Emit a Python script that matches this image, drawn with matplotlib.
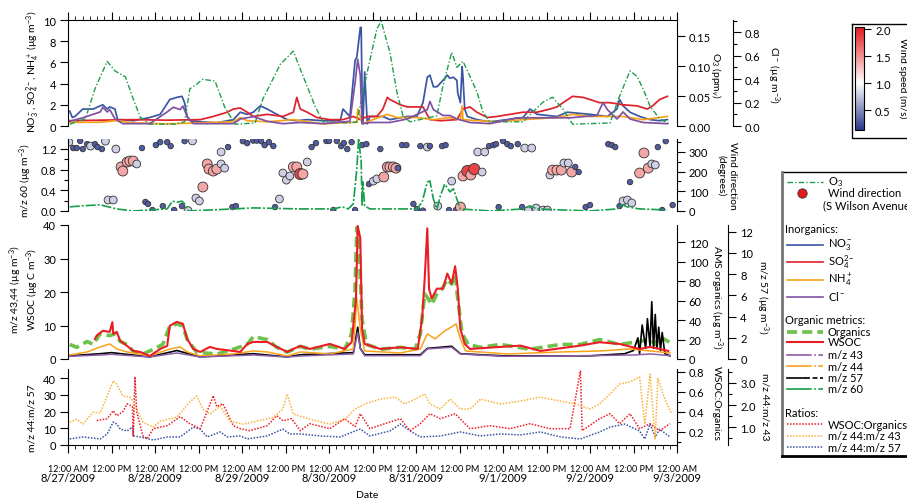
import numpy as np
import pandas as pd
import matplotlib
matplotlib.use('Agg')
import matplotlib.pyplot as plt
import matplotlib.dates as mdates
import matplotlib.ticker as mticker
from matplotlib.colors import LinearSegmentedColormap, Normalize
from matplotlib.cm import ScalarMappable

plt.rcParams['font.family'] = ['Lato', 'DejaVu Sans']
plt.rcParams['mathtext.fontset'] = 'custom'
plt.rcParams['mathtext.rm'] = 'Lato'
plt.rcParams['mathtext.it'] = 'Lato:italic'
plt.rcParams['mathtext.bf'] = 'Lato:bold'

# ---------------- data (time in days since 8/27/2009 00:00) ----------------
O3 = [(0.02,0.003),(0.20,0.012),(0.31,0.062),(0.45,0.108),(0.54,0.092),(0.66,0.082),(0.75,0.045),(0.83,0.015),(0.94,0.003),(1.23,0.003),(1.34,0.007),(1.40,0.062),(1.48,0.070),(1.55,0.078),(1.69,0.075),(1.80,0.032),(1.92,0.003),(2.15,0.005),(2.24,0.045),(2.44,0.103),(2.59,0.125),(2.67,0.095),(2.84,0.033),(2.93,0.007),(3.24,0.005),(3.32,0.007),(3.44,0.090),(3.55,0.162),(3.60,0.175),(3.70,0.123),(3.78,0.057),(3.85,0.017),(3.93,0.007),(4.24,0.017),(4.31,0.067),(4.41,0.123),(4.47,0.098),(4.54,0.108),(4.62,0.083),(4.70,0.057),(4.77,0.023),(4.85,0.007),(5.23,0.007),(5.46,0.040),(5.57,0.048),(5.69,0.028),(5.80,0.003),(6.23,0.005),(6.34,0.050),(6.46,0.092),(6.54,0.083),(6.61,0.062),(6.69,0.033),(6.80,0.012),(6.92,0.003)]
NO3 = [(0.02,1.4),(0.05,0.8),(0.08,0.9),(0.17,1.6),(0.29,1.6),(0.37,1.9),(0.40,2.0),(0.45,1.6),(0.48,1.8),(0.54,1.6),(0.57,0.6),(0.63,0.6),(0.75,0.5),(0.94,0.8),(1.06,1.1),(1.17,2.5),(1.25,2.7),(1.31,2.8),(1.34,2.2),(1.37,0.9),(1.40,0.5),(1.52,0.4),(1.71,0.3),(1.90,0.6),(1.98,1.3),(2.06,1.1),(2.13,1.3),(2.21,1.9),(2.29,1.6),(2.40,1.1),(2.52,0.6),(2.63,0.5),(2.75,0.6),(2.93,0.5),(3.13,0.5),(3.16,1.6),(3.24,0.9),(3.30,6.2),(3.32,6.5),(3.36,9.3),(3.37,9.3),(3.38,3.1),(3.39,0.2),(3.41,5.1),(3.44,0.2),(3.47,0.9),(3.62,0.9),(3.70,0.6),(3.90,0.9),(4.01,0.9),(4.08,2.2),(4.13,4.6),(4.16,4.8),(4.20,3.7),(4.24,3.7),(4.31,4.3),(4.36,4.8),(4.39,4.5),(4.43,4.6),(4.47,4.3),(4.48,3.1),(4.51,2.2),(4.53,5.6),(4.54,4.6),(4.56,1.6),(4.59,0.9),(4.70,0.6),(4.85,0.4),(5.05,0.6),(5.23,0.8),(5.31,1.6),(5.39,1.1),(5.62,0.9),(5.74,1.3),(6.00,1.1),(6.20,0.9),(6.31,1.6),(6.34,2.5),(6.38,1.9),(6.46,1.3),(6.57,0.9),(6.69,0.6),(6.80,0.5),(6.89,0.6)]
SO4 = [(0.02,0.5),(0.37,0.55),(0.75,0.6),(1.14,0.55),(1.52,0.6),(1.67,0.9),(1.83,1.3),(1.90,1.6),(1.98,1.7),(2.06,1.3),(2.13,0.9),(2.29,1.1),(2.47,0.9),(2.59,1.3),(2.63,2.7),(2.67,1.6),(2.75,1.3),(2.86,0.8),(3.01,0.6),(3.16,0.6),(3.28,0.9),(3.36,0.6),(3.44,0.9),(3.55,0.9),(3.62,1.6),(3.67,2.7),(3.70,2.5),(3.82,2.0),(3.90,1.8),(4.08,1.8),(4.16,0.6),(4.28,0.5),(4.47,0.6),(4.54,1.6),(4.62,1.8),(4.70,1.3),(4.82,0.8),(4.93,0.9),(5.08,1.1),(5.23,1.3),(5.39,1.3),(5.54,1.6),(5.62,1.8),(5.69,2.2),(5.80,2.8),(5.92,2.7),(6.00,2.5),(6.11,2.2),(6.23,2.2),(6.38,2.0),(6.54,1.9),(6.66,1.6),(6.72,1.9),(6.80,2.5),(6.89,2.8)]
NH4 = [(0.02,0.35),(0.37,0.35),(0.56,0.5),(0.75,0.3),(1.14,0.2),(1.52,0.3),(1.90,0.4),(1.98,0.8),(2.06,0.5),(2.29,0.4),(2.59,0.6),(2.93,0.2),(3.24,0.35),(3.32,0.35),(3.33,1.6),(3.36,0.9),(3.38,0.2),(3.47,0.5),(3.67,1.1),(3.78,0.8),(4.01,0.8),(4.20,0.6),(4.39,0.8),(4.51,0.6),(4.53,1.9),(4.54,0.6),(4.70,0.5),(4.93,0.4),(5.23,0.6),(5.62,0.8),(5.80,1.1),(6.00,0.9),(6.38,0.9),(6.61,0.6),(6.89,0.9)]
CL = [(0.02,0.04),(0.17,0.07),(0.37,0.12),(0.40,0.16),(0.45,0.12),(0.48,0.14),(0.54,0.06),(0.63,0.02),(0.94,0.02),(1.14,0.12),(1.21,0.16),(1.29,0.14),(1.32,0.17),(1.37,0.08),(1.44,0.02),(1.90,0.02),(1.98,0.06),(2.13,0.08),(2.29,0.04),(2.47,0.02),(2.67,0.03),(2.93,0.02),(3.24,0.04),(3.30,0.37),(3.33,0.57),(3.36,0.43),(3.38,0.02),(3.47,0.03),(3.70,0.03),(3.90,0.06),(4.13,0.14),(4.16,0.21),(4.20,0.14),(4.31,0.09),(4.39,0.09),(4.47,0.06),(4.62,0.03),(4.85,0.02),(5.16,0.07),(5.46,0.07),(5.77,0.07),(6.08,0.09),(6.15,0.20),(6.20,0.14),(6.31,0.06),(6.38,0.12),(6.46,0.06),(6.61,0.03),(6.89,0.02)]

MZ60 = [(0.02,0.08),(0.17,0.10),(0.37,0.12),(0.56,0.04),(0.75,0.0),(1.14,0.04),(1.20,0.19),(1.25,0.17),(1.31,0.19),(1.34,0.14),(1.38,0.0),(1.90,0.04),(2.13,0.06),(2.67,0.04),(3.05,0.04),(3.15,0.08),(3.22,0.04),(3.28,0.14),(3.32,0.82),(3.34,1.40),(3.37,0.95),(3.38,0.10),(3.39,0.56),(3.41,0.10),(3.47,0.04),(4.01,0.04),(4.07,0.17),(4.13,0.56),(4.16,0.58),(4.20,0.23),(4.24,0.04),(4.28,0.29),(4.33,0.52),(4.39,0.37),(4.43,0.43),(4.47,0.23),(4.51,0.04),(4.85,0.0),(5.23,0.04),(5.31,0.10),(5.39,0.04),(6.00,0.0),(6.31,0.04),(6.37,0.12),(6.43,0.08),(6.57,0.04),(6.89,0.02)]

# wind: (day, direction deg, speed m/s)
WIND = [(0.01,350,0.8),(0.06,320,0.3),(0.10,320,0.3),(0.14,356,0.3),(0.17,315,0.3),(0.22,340,0.3),(0.26,330,0.8),(0.31,340,0.3),(0.34,325,0.3),(0.39,315,0.3),(0.43,355,0.8),(0.46,56,0.8),(0.52,56,0.8),(0.55,315,0.8),(0.61,224,1.4),(0.63,203,1.4),(0.68,249,1.4),(0.71,254,1.4),(0.75,254,1.4),(0.79,239,0.8),(0.85,320,0.3),(0.89,46,0.3),(0.92,36,0.3),(0.97,5,0.3),(1.01,335,0.3),(1.06,350,0.3),(1.09,25,0.3),(1.14,350,0.3),(1.18,330,0.3),(1.22,5,0.3),(1.31,25,0.3),(1.34,355,0.3),(1.38,2,0.8),(1.43,356,0.8),(1.47,66,0.8),(1.51,51,0.8),(1.55,122,1.4),(1.60,239,1.4),(1.62,213,1.4),(1.67,203,1.4),(1.71,213,1.4),(1.76,239,0.8),(1.80,218,0.8),(1.76,300,0.8),(1.84,325,0.3),(1.89,20,0.3),(1.93,25,0.3),(2.01,355,0.3),(2.06,345,0.3),(2.13,358,0.3),(2.17,358,0.3),(2.22,355,0.3),(2.26,335,0.3),(2.31,350,0.3),(2.36,330,0.3),(2.38,20,0.3),(2.43,61,0.8),(2.47,193,0.8),(2.51,157,0.8),(2.55,178,0.8),(2.59,224,1.4),(2.63,224,1.4),(2.67,188,1.85),(2.70,188,1.4),(2.75,249,0.8),(2.80,325,0.3),(2.85,345,0.3),(2.97,356,0.3),(3.00,356,0.3),(3.05,5,0.3),(3.09,356,0.3),(3.14,330,0.3),(3.17,345,0.3),(3.21,315,0.3),(3.26,350,0.3),(3.30,5,0.3),(3.38,335,0.3),(3.43,340,0.3),(3.46,137,0.3),(3.51,152,0.8),(3.55,163,0.8),(3.59,315,0.3),(3.63,173,1.4),(3.67,224,1.4),(3.70,224,1.4),(3.74,224,1.4),(3.77,218,1.4),(3.79,218,0.3),(3.84,335,0.3),(3.89,335,0.3),(3.97,36,0.3),(4.01,10,0.3),(4.05,330,0.3),(4.08,2,0.3),(4.13,325,0.8),(4.16,330,0.3),(4.25,25,0.8),(4.30,330,0.3),(4.34,335,0.3),(4.38,5,0.3),(4.41,152,0.8),(4.46,5,0.3),(4.51,20,1.4),(4.54,178,1.4),(4.59,203,1.85),(4.63,183,1.4),(4.67,213,1.85),(4.71,300,0.8),(4.76,198,0.8),(4.79,300,0.8),(4.84,330,0.3),(4.89,335,0.3),(4.92,340,0.3),(4.95,20,0.3),(5.00,356,0.3),(5.05,340,0.3),(5.09,330,0.3),(5.17,340,0.3),(5.22,20,0.3),(5.25,320,0.8),(5.29,2,0.8),(5.33,320,0.8),(5.38,15,0.8),(5.46,5,0.8),(5.51,5,0.8),(5.54,183,0.8),(5.57,208,1.4),(5.62,208,1.4),(5.67,208,1.4),(5.70,244,0.8),(5.75,244,0.8),(5.79,198,1.4),(5.83,224,0.3),(5.87,198,0.3),(5.95,20,0.3),(6.00,30,0.3),(6.21,340,0.3),(6.25,335,0.3),(6.29,325,0.3),(6.34,25,0.3),(6.38,51,0.8),(6.43,56,0.8),(6.46,147,0.3),(6.48,41,0.8),(6.57,193,1.4),(6.62,295,1.4),(6.67,218,1.4),(6.71,239,0.8),(6.75,234,0.8),(6.78,325,0.3),(6.83,5,0.3),(6.87,355,0.3),(6.95,30,0.3)]

WSOC = [(0.31,6.0),(0.33,7.0),(0.40,8.4),(0.48,8.1),(0.51,11.0),(0.52,7.5),(0.56,8.1),(0.60,5.4),(0.68,3.9),(0.75,2.4),(0.83,2.1),(0.94,0.9),(1.06,3.0),(1.14,3.9),(1.17,9.9),(1.25,11.1),(1.32,10.5),(1.37,6.0),(1.44,3.0),(1.52,2.1),(1.63,3.6),(1.71,3.0),(1.90,2.4),(1.98,2.1),(2.06,4.5),(2.13,5.1),(2.29,5.1),(2.40,3.6),(2.52,2.1),(2.59,3.0),(2.67,3.9),(2.78,3.0),(3.01,4.5),(3.18,3.0),(3.26,5.0),(3.31,18.0),(3.33,39.7),(3.36,36.0),(3.38,9.0),(3.41,4.5),(3.59,3.0),(3.82,3.5),(4.02,3.0),(4.07,12.0),(4.10,24.0),(4.13,39.0),(4.15,21.0),(4.18,18.0),(4.24,21.0),(4.31,21.0),(4.36,25.5),(4.41,22.5),(4.45,27.7),(4.48,21.0),(4.51,9.0),(4.56,4.5),(4.62,3.0),(5.20,4.0),(5.43,2.4),(5.89,4.0),(6.11,5.0),(6.34,4.5),(6.57,3.0),(6.69,3.6),(6.80,3.0),(6.90,2.4)]
ORG = [(0.02,15),(0.10,12),(0.22,18),(0.29,15),(0.37,26),(0.48,24),(0.54,26),(0.60,18),(0.68,15),(0.75,8),(0.86,5),(0.98,10),(1.09,15),(1.17,34),(1.25,36),(1.32,34),(1.37,20),(1.48,7),(1.71,5),(1.90,10),(2.06,15),(2.13,23),(2.29,20),(2.40,12),(2.52,7),(2.67,13),(2.78,10),(3.01,13),(3.18,10),(3.26,26),(3.30,72),(3.32,135),(3.34,123),(3.38,41),(3.43,15),(3.59,10),(3.82,12),(3.99,10),(4.05,26),(4.10,67),(4.14,62),(4.18,56),(4.24,67),(4.30,72),(4.36,82),(4.41,77),(4.45,87),(4.48,62),(4.53,26),(4.60,15),(4.74,12),(4.97,15),(5.31,10),(5.66,15),(5.89,15),(6.11,20),(6.34,15),(6.57,18),(6.69,20),(6.75,15),(6.80,23),(6.92,17)]
MZ44 = [(0.02,1.2),(0.22,2.1),(0.37,3.6),(0.48,4.5),(0.56,3.0),(0.68,2.1),(0.94,0.9),(1.17,3.0),(1.29,3.6),(1.37,2.1),(1.52,0.9),(1.90,1.5),(2.13,2.4),(2.29,2.1),(2.52,0.9),(2.67,2.1),(3.01,1.5),(3.28,3.0),(3.32,18.0),(3.36,9.0),(3.41,2.4),(3.82,1.8),(4.05,3.0),(4.13,7.5),(4.22,6.0),(4.33,8.4),(4.41,9.6),(4.46,10.5),(4.51,6.0),(4.57,2.4),(5.05,1.5),(5.66,2.1),(6.11,2.4),(6.46,3.0),(6.69,2.4),(6.92,1.8)]
MZ43 = [(0.02,0.8),(0.37,1.2),(0.50,1.4),(0.94,0.6),(1.25,1.8),(1.52,0.6),(2.13,1.2),(2.52,0.6),(2.67,0.9),(3.28,1.5),(3.33,8.0),(3.36,3.0),(3.41,1.0),(4.05,1.0),(4.13,3.0),(4.41,3.5),(4.51,1.5),(5.00,0.8),(6.00,1.0),(6.50,1.2),(6.70,1.5),(6.92,1.0)]
MZ57 = [(0.02,0.3),(0.37,0.5),(0.50,0.6),(0.94,0.2),(1.25,0.8),(1.52,0.2),(2.13,0.5),(2.52,0.2),(2.67,0.4),(3.28,0.6),(3.33,3.0),(3.36,1.0),(3.41,0.4),(4.05,0.4),(4.13,1.0),(4.41,1.2),(4.51,0.5),(5.00,0.3),(6.00,0.3),(6.40,0.5),(6.50,0.8),(6.55,2.0),(6.57,0.5),(6.60,3.2),(6.64,1.0),(6.66,3.8),(6.69,1.2),(6.71,5.4),(6.73,1.0),(6.75,4.2),(6.77,1.0),(6.79,3.0),(6.81,0.8),(6.83,2.5),(6.86,0.5),(6.92,0.3)]

R4457 = [(0.02,3.6),(0.17,4.8),(0.37,3.6),(0.45,6.6),(0.52,13.7),(0.56,12.5),(0.60,9.5),(0.68,8.4),(0.74,10.7),(0.75,5.4),(0.83,4.8),(0.98,3.0),(1.14,4.8),(1.29,4.8),(1.44,10.7),(1.52,9.5),(1.60,4.8),(1.75,7.8),(1.83,4.8),(1.98,5.4),(2.06,3.6),(2.29,5.4),(2.47,9.5),(2.55,6.6),(2.67,6.6),(2.90,5.4),(3.13,4.8),(3.30,8.4),(3.36,9.5),(3.47,5.4),(3.70,8.4),(3.82,12.5),(3.93,8.4),(4.05,4.8),(4.28,5.4),(4.51,7.8),(4.74,5.4),(4.97,6.6),(5.20,6.0),(5.43,7.8),(5.66,4.8),(5.89,3.6),(6.11,7.8),(6.23,10.7),(6.40,12.5),(6.57,8.4),(6.63,3.6),(6.69,12.5),(6.75,4.8),(6.80,9.5),(6.92,4.8)]
R4443 = [(0.02,1.23),(0.10,1.36),(0.17,1.14),(0.29,1.68),(0.37,1.64),(0.45,2.41),(0.52,3.09),(0.56,2.95),(0.63,2.41),(0.71,2.36),(0.75,2.18),(0.79,1.82),(0.86,1.23),(0.98,1.0),(1.06,1.27),(1.25,1.45),(1.40,2.14),(1.48,2.41),(1.55,1.82),(1.63,1.59),(1.75,1.95),(1.86,1.27),(2.01,1.14),(2.17,1.27),(2.36,1.45),(2.47,1.82),(2.52,2.5),(2.59,1.59),(2.67,1.5),(2.78,1.36),(3.01,1.14),(3.18,1.36),(3.30,1.82),(3.41,2.05),(3.59,2.27),(3.76,2.36),(3.87,2.05),(3.99,2.27),(4.10,2.5),(4.16,2.05),(4.28,1.82),(4.39,2.27),(4.51,1.82),(4.62,1.82),(4.74,2.27),(4.97,2.05),(5.20,2.18),(5.43,2.36),(5.66,2.18),(5.83,2.05),(6.00,1.82),(6.11,2.05),(6.23,2.5),(6.34,2.95),(6.46,3.05),(6.57,3.27),(6.63,1.14),(6.69,3.4),(6.75,0.45),(6.78,3.2),(6.86,2.27),(6.94,1.6)]
RWO = [(0.33,0.31),(0.45,0.33),(0.52,0.41),(0.56,0.36),(0.63,0.40),(0.68,0.48),(0.74,0.45),(0.75,0.15),(0.77,0.75),(0.79,0.40),(0.86,0.16),(0.91,0.13),(0.98,0.23),(1.14,0.26),(1.29,0.35),(1.40,0.28),(1.52,0.23),(1.67,0.56),(1.71,0.45),(1.78,0.48),(1.90,0.26),(1.98,0.23),(2.09,0.21),(2.29,0.26),(2.40,0.36),(2.47,0.31),(2.57,0.33),(2.67,0.21),(2.78,0.28),(3.01,0.23),(3.18,0.33),(3.30,0.25),(3.36,0.38),(3.47,0.23),(3.64,0.28),(3.82,0.33),(3.93,0.21),(4.05,0.28),(4.16,0.38),(4.28,0.33),(4.45,0.38),(4.62,0.23),(4.85,0.26),(5.08,0.23),(5.31,0.28),(5.54,0.23),(5.77,0.23),(5.89,0.81),(5.91,0.21),(6.11,0.33),(6.23,0.38),(6.34,0.28),(6.46,0.38),(6.57,0.23),(6.69,0.28),(6.80,0.21),(6.92,0.28)]

DATES = ['8/27/2009', '8/28/2009', '8/29/2009', '8/30/2009', '8/31/2009', '9/1/2009', '9/2/2009', '9/3/2009']
WS_TICKS = [0.5, 1.0, 1.5, 2.0]

START = pd.Timestamp('2009-08-27')


def series(pairs):
    d, v = zip(*pairs)
    return START + pd.to_timedelta(np.array(d), unit='D'), np.array(v)


# ---------------- colours ----------------
C_NO3 = '#3b55a5'
C_SO4 = '#e0202a'
C_NH4 = '#f8a31c'
C_CL = '#7e51a1'
C_O3 = '#1e9e4a'
C_60 = '#14a04a'
C_ORG = '#6cc24a'
C_WSOC = '#ec1c24'
C_43 = '#8b5ea8'
C_44 = '#f9a21b'
C_57 = '#000000'

W, H = 907, 502
fig = plt.figure(figsize=(W / 100, H / 100), dpi=100)


def box(x0, y0, x1, y1):
    return [x0 / W, 1 - y1 / H, (x1 - x0) / W, (y1 - y0) / H]


ax1 = fig.add_axes(box(68, 21, 677, 127))
ax2 = fig.add_axes(box(68, 140, 677, 212))
ax3 = fig.add_axes(box(68, 226, 677, 360))
ax4 = fig.add_axes(box(68, 370, 677, 446))

FS = 8
TL = 5.5


def style_left(ax, bottom=False, top=False):
    for s in ['right', 'top', 'bottom']:
        ax.spines[s].set_visible(False)
    if bottom:
        ax.spines['bottom'].set_visible(True)
    if top:
        ax.spines['top'].set_visible(True)
    ax.tick_params(axis='y', which='major', length=TL, width=0.8, labelsize=FS, pad=3)
    ax.tick_params(axis='y', which='minor', length=3, width=0.8)
    ax.patch.set_visible(False)


def style_right(tw, offset=0):
    for s in ['left', 'top', 'bottom']:
        tw.spines[s].set_visible(False)
    tw.spines['right'].set_position(('outward', offset))
    tw.tick_params(axis='y', which='major', length=TL, width=0.8, labelsize=FS, pad=3)
    tw.tick_params(axis='y', which='minor', length=3, width=0.8)


xlim = (START, START + pd.Timedelta(days=7))

# ---------------- panel 1 ----------------
style_left(ax1, top=True)
t1 = ax1.twinx()
t1b = ax1.twinx()
style_right(t1, 0)
style_right(t1b, 40)

t, v = series(O3)
t1.plot(t, v, color=C_O3, lw=1.0, ls=(0, (4, 1.5, 1, 1.5)), zorder=1)
t, v = series(NO3)
ax1.plot(t, v, color=C_NO3, lw=1.25, zorder=3)
t, v = series(SO4)
ax1.plot(t, v, color=C_SO4, lw=1.25, zorder=3)
t, v = series(NH4)
ax1.plot(t, v, color=C_NH4, lw=1.25, zorder=3)
t, v = series(CL)
t1b.plot(t, v, color=C_CL, lw=1.25, zorder=3)
ax1.set_ylim(0, 10)
t1.set_ylim(0, 0.177)
t1b.set_ylim(0, 0.905)
ax1.set_yticks([0, 2, 4, 6, 8, 10])
t1.set_yticks([0, 0.05, 0.10, 0.15])
t1.yaxis.set_major_formatter(mticker.FormatStrFormatter('%.2f'))
t1b.set_yticks([0, 0.2, 0.4, 0.6, 0.8])
t1b.yaxis.set_minor_locator(mticker.MultipleLocator(0.1))
t1b.yaxis.set_major_formatter(mticker.FormatStrFormatter('%.1f'))
ax1.xaxis.set_ticks_position('top')
ax1.tick_params(axis='x', which='major', length=6, width=0.8, labeltop=False, labelbottom=False)
ax1.tick_params(axis='x', which='minor', length=3, width=0.6)

# ---------------- panel 2 ----------------
style_left(ax2)
t2 = ax2.twinx()
style_right(t2, 0)
t, v = series(MZ60)
ax2.plot(t, v, color=C_60, lw=1.2, ls=(0, (6, 1.2, 1.2, 1.2)), zorder=1)
wd = np.array(WIND)
wt = START + pd.to_timedelta(wd[:, 0], unit='D')
norm = Normalize(vmin=0.13, vmax=2.04)
wpos = (1.0 - norm.vmin) / (norm.vmax - norm.vmin)
cmap = LinearSegmentedColormap.from_list('ws', [(0.0, '#27378c'), (wpos, '#ffffff'), (1.0, '#e31a1c')])
t2.scatter(wt, wd[:, 1], c=wd[:, 2], cmap=cmap, norm=norm, s=6 + 32 * wd[:, 2],
           edgecolors='#333333', linewidths=0.6, zorder=5)
ax2.set_ylim(0, 1.39)
t2.set_ylim(0, 366)
ax2.set_yticks([0, 0.4, 0.8, 1.2])
ax2.yaxis.set_minor_locator(mticker.MultipleLocator(0.2))
ax2.yaxis.set_major_formatter(mticker.FormatStrFormatter('%.1f'))
t2.set_yticks([0, 100, 200, 300])
t2.yaxis.set_minor_locator(mticker.MultipleLocator(50))
ax2.set_xticks([])
ax2.set_zorder(t2.get_zorder() + 1)

# ---------------- panel 3 ----------------
style_left(ax3)
t3 = ax3.twinx()
t3b = ax3.twinx()
style_right(t3, 0)
style_right(t3b, 37)
t, v = series(ORG)
t3.plot(t, v, color=C_ORG, lw=2.6, ls=(0, (2.8, 1.4)), zorder=2)
t, v = series(MZ44)
ax3.plot(t, v, color=C_44, lw=1.1, zorder=3)
t, v = series(MZ43)
ax3.plot(t, v, color=C_43, lw=1.1, zorder=3)
t, v = series(WSOC)
ax3.plot(t, v, color=C_WSOC, lw=1.5, zorder=4)
t, v = series(MZ57)
t3b.plot(t, v, color=C_57, lw=1.2, zorder=5)
ax3.set_ylim(0, 40)
t3.set_ylim(0, 137.8)
t3b.set_ylim(0, 12.63)
ax3.set_yticks([0, 10, 20, 30, 40])
t3.set_yticks([0, 20, 40, 60, 80, 100, 120])
t3b.set_yticks([0, 2, 4, 6, 8, 10, 12])
ax3.set_xticks([])
ax3.set_zorder(t3.get_zorder() + 1)

# ---------------- panel 4 ----------------
style_left(ax4, bottom=True)
t4 = ax4.twinx()
t4b = ax4.twinx()
style_right(t4, 0)
style_right(t4b, 37)
dot = (0, (1, 1))
t, v = series(R4443)
t4b.plot(t, v, color='#fbb03b', lw=1.1, ls=dot)
t, v = series(RWO)
t4.plot(t, v, color=C_WSOC, lw=1.1, ls=dot)
t, v = series(R4457)
ax4.plot(t, v, color='#3953a4', lw=1.1, ls=dot)
ax4.set_ylim(0, 45.4)
t4.set_ylim(0.067, 0.827)
t4b.set_ylim(0.197, 3.63)
ax4.set_yticks([0, 10, 20, 30, 40])
t4.set_yticks([0.2, 0.4, 0.6, 0.8])
t4.yaxis.set_minor_locator(mticker.MultipleLocator(0.1))
t4.yaxis.set_major_formatter(mticker.FormatStrFormatter('%.1f'))
t4b.set_yticks([1.0, 2.0, 3.0])
t4b.yaxis.set_minor_locator(mticker.MultipleLocator(0.5))
t4b.yaxis.set_major_formatter(mticker.FormatStrFormatter('%.1f'))

ax4.xaxis.set_major_locator(mdates.HourLocator(byhour=[0, 12]))
ax4.xaxis.set_minor_locator(mdates.HourLocator(byhour=range(0, 24, 2)))
ax4.xaxis.set_major_formatter(mticker.FuncFormatter(
    lambda x, pos: '12:00 AM' if mdates.num2date(x).hour == 0 else '12:00 PM'))
ax4.tick_params(axis='x', which='major', length=6, width=0.8, labelsize=6.5, pad=8)
ax4.tick_params(axis='x', which='minor', length=3, width=0.6)
for i, lab in enumerate(DATES):
    ax4.text(START + pd.Timedelta(days=i), -0.43, lab, transform=ax4.get_xaxis_transform(),
             ha='center', va='center', fontsize=8)

ax1.xaxis.set_major_locator(mdates.HourLocator(byhour=[0, 12]))
ax1.xaxis.set_minor_locator(mdates.HourLocator(byhour=range(0, 24, 2)))

for a in (ax1, ax2, ax3, ax4):
    a.set_xlim(*xlim)

# ---------------- axis labels ----------------
def flab(x, y, s, rot, ls=1.3, **kw):
    fig.text(x / W, 1 - y / H, s, rotation=rot, ha='center', va='center', fontsize=7.5,
             linespacing=ls, **kw)


flab(33, 72, 'NO$_3^-$, SO$_4^{2-}$, NH$_4^+$ (µg m$^{-3}$)', 90)
flab(716, 75, 'O$_3$ (ppm$_v$)', -90)
flab(773, 75, 'Cl$^-$ (µg m$^{-3}$)', -90)
flab(26, 181, 'm/z 60 (µg m$^{-3}$)', 90)
flab(727, 176, 'Wind direction\n(degrees)', -90)
flab(24, 290, 'm/z 43,44 (µg m$^{-3}$)\nWSOC (µg C m$^{-3}$)', 90, ls=1.05)
flab(716, 297, 'AMS organics (µg m$^{-3}$)', -90)
flab(762, 297, 'm/z 57 (µg m$^{-3}$)', -90)
flab(32, 418, 'm/z 44:m/z 57', 90)
flab(716, 403, 'WSOC:Organics', -90)
flab(765, 407, 'm/z 44:m/z 43', -90)
fig.text(367 / W, 1 - 496 / H, 'Date', ha='center', va='center', fontsize=7.5)

# ---------------- colorbar ----------------
cax = fig.add_axes(box(855, 28, 864, 131))
cb = fig.colorbar(ScalarMappable(norm=norm, cmap=cmap), cax=cax)
cb.set_ticks(WS_TICKS)
cb.ax.yaxis.set_major_formatter(mticker.FormatStrFormatter('%.1f'))
cb.ax.tick_params(labelsize=FS, length=5, width=0.8, pad=3)
cb.outline.set_linewidth(0.8)
flab(903, 78, 'Wind speed (m/s)', -90)

# ---------------- overlay for boxes & legend ----------------
lax = fig.add_axes([0, 0, 1, 1])
lax.set_xlim(0, W)
lax.set_ylim(H, 0)
lax.axis('off')
lax.plot([852, 852, 912], [25, 139, 139], color='black', lw=1.0)
lax.plot([852, 912], [25, 25], color='black', lw=1.0)
# legend frame
lax.plot([782, 912], [173, 173], color='black', lw=1.0)
lax.plot([782, 782], [173, 457], color='#777777', lw=2.0)
lax.plot([782, 912], [457, 457], color='black', lw=2.0)

X0, XM, X1, XT = 787, 805, 823, 828


def lg_line(y, color, ls='-', lw=1.2, ls2=None):
    if ls2 is None:
        lax.plot([X0, X1], [y, y], color=color, ls=ls, lw=lw)
    else:
        lax.plot([X0, XM], [y, y], color=color, ls='-', lw=lw)
        lax.plot([XM, X1], [y, y], color=color, ls=ls2, lw=lw)


def lg_text(y, s, x=XT):
    lax.text(x, y, s, ha='left', va='center', fontsize=8)


lg_line(182.5, C_O3, ls=(0, (4, 1.5, 1, 1.5)), lw=1.0)
lg_text(182.5, 'O$_3$')
lax.scatter([802], [194], s=45, color='#e31a1c', edgecolors='#333333', linewidths=0.6)
lg_text(194, 'Wind direction')
lg_text(205.5, '(S Wilson Avenue)', x=823)
lg_text(230, 'Inorganics:', x=785)
lg_line(246, C_NO3)
lg_text(245, 'NO$_3^-$')
lg_line(262.5, C_SO4)
lg_text(262, 'SO$_4^{2-}$')
lg_line(281, C_NH4)
lg_text(280, 'NH$_4^+$')
lg_line(297.5, C_CL)
lg_text(297, 'Cl$^-$')
lg_text(321, 'Organic metrics:', x=785)
lg_line(332.5, C_ORG, ls=(0, (2.8, 1.4)), lw=2.6)
lg_text(332.5, 'Organics')
lg_line(343, C_WSOC, lw=1.5)
lg_text(343, 'WSOC')
lg_line(355.7, C_43, ls2=(0, (4, 1.5, 1, 1.5)))
lg_text(355.7, 'm/z 43')
lg_line(367.3, C_44, ls2=(0, (4, 1.5, 1, 1.5)))
lg_text(367.3, 'm/z 44')
lg_line(378.7, C_57, ls2=(0, (3, 1.5)))
lg_text(378.7, 'm/z 57')
lg_line(390, C_60, ls2=(0, (4, 1.5, 1, 1.5)))
lg_text(390, 'm/z 60')
lg_text(414, 'Ratios:', x=785)
lg_line(425.3, C_WSOC, ls=dot, lw=1.1)
lg_text(425.3, 'WSOC:Organics')
lg_line(436.7, '#fbb03b', ls=dot, lw=1.1)
lg_text(436.7, 'm/z 44:m/z 43')
lg_line(448.3, '#3953a4', ls=dot, lw=1.1)
lg_text(448.3, 'm/z 44:m/z 57')

fig.savefig('out.png', dpi=100)
